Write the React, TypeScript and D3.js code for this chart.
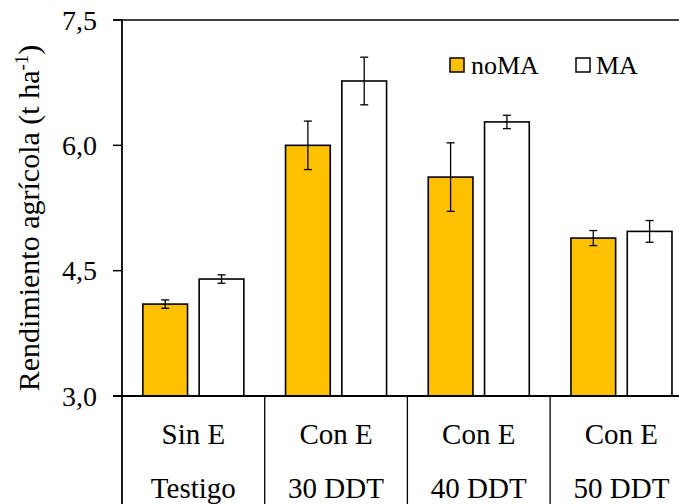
import React from "react";
import * as d3 from "d3";

const categoriesTop = ["Sin E", "Con E", "Con E", "Con E"];
const categoriesBottom = ["Testigo", "30 DDT", "40 DDT", "50 DDT"];
const categoryKeys = ["c1", "c2", "c3", "c4"];
const seriesNames = ["noMA", "MA"];
const noMAValues = [4.1, 6.0, 5.62, 4.89];
const noMAErrors = [0.05, 0.29, 0.41, 0.09];
const maValues = [4.4, 6.77, 6.28, 4.97];
const maErrors = [0.05, 0.285, 0.08, 0.13];
const yTicks = [3.0, 4.5, 6.0, 7.5];

const W = 679;
const H = 504;
const FONT = "Liberation Serif";
const ORANGE = "#FFC000";

export default function App() {
  const left = 122;
  const top = 20;
  const bottom = 396;
  const catWidth = 142.7;

  const x = d3
    .scaleBand<string>()
    .domain(categoryKeys)
    .range([left, left + catWidth * categoryKeys.length])
    .paddingInner(0)
    .paddingOuter(0);

  const xs = d3
    .scaleBand<string>()
    .domain(seriesNames)
    .range([0, x.bandwidth()])
    .paddingInner(0.206)
    .paddingOuter(0.37);

  const y = d3.scaleLinear().domain([3, 7.5]).range([bottom, top]);

  const fmt = (v: number) => d3.format(".1f")(v).replace(".", ",");

  const series = [
    { name: "noMA", values: noMAValues, errors: noMAErrors, fill: ORANGE },
    { name: "MA", values: maValues, errors: maErrors, fill: "#ffffff" },
  ];

  const capHalf = 4;

  return (
    <svg
      width={W}
      height={H}
      style={{ position: "absolute", left: 0, top: 0, background: "#fff" }}
    >
      {/* bars */}
      {series.map((s) =>
        categoryKeys.map((c, i) => {
          const bx = (x(c) as number) + (xs(s.name) as number);
          const by = y(s.values[i]);
          return (
            <rect
              key={s.name + c}
              x={bx}
              y={by}
              width={xs.bandwidth()}
              height={bottom - by}
              fill={s.fill}
              stroke="#000"
              strokeWidth={1.6}
            />
          );
        })
      )}

      {/* error bars */}
      {series.map((s) =>
        categoryKeys.map((c, i) => {
          const cx = (x(c) as number) + (xs(s.name) as number) + xs.bandwidth() / 2;
          const y1 = y(s.values[i] + s.errors[i]);
          const y2 = y(s.values[i] - s.errors[i]);
          return (
            <g key={"e" + s.name + c} stroke="#000" strokeWidth={1.3}>
              <line x1={cx} x2={cx} y1={y1} y2={y2} />
              <line x1={cx - capHalf} x2={cx + capHalf} y1={y1} y2={y1} />
              <line x1={cx - capHalf} x2={cx + capHalf} y1={y2} y2={y2} />
            </g>
          );
        })
      )}

      {/* top line at the axis maximum */}
      <line x1={113} x2={W} y1={y(7.5)} y2={y(7.5)} stroke="#000" strokeWidth={1.5} />

      {/* y axis */}
      <line x1={left} x2={left} y1={top} y2={H} stroke="#000" strokeWidth={1.8} />
      {yTicks.map((t) => (
        <g key={"t" + t}>
          <line x1={113} x2={left} y1={y(t)} y2={y(t)} stroke="#000" strokeWidth={1.5} />
          <text
            x={97}
            y={y(t)}
            dy="0.34em"
            textAnchor="end"
            fontSize={28}
            fill="#000"
            fontFamily={FONT}
          >
            {fmt(t)}
          </text>
        </g>
      ))}

      {/* x axis */}
      <line x1={113} x2={W} y1={bottom} y2={bottom} stroke="#000" strokeWidth={1.8} />
      {categoryKeys.slice(1).map((c) => (
        <line
          key={"d" + c}
          x1={x(c) as number}
          x2={x(c) as number}
          y1={bottom}
          y2={H}
          stroke="#000"
          strokeWidth={1.3}
        />
      ))}
      {categoryKeys.map((c, i) => {
        const cx = (x(c) as number) + x.bandwidth() / 2;
        return (
          <g key={"l" + c}>
            <text x={cx} y={443.5} fontSize={29} fill="#000" textAnchor="middle" fontFamily={FONT}>
              {categoriesTop[i]}
            </text>
            <text x={cx} y={497.5} fontSize={29} fill="#000" textAnchor="middle" fontFamily={FONT}>
              {categoriesBottom[i]}
            </text>
          </g>
        );
      })}

      {/* y axis title */}
      <text
        transform="translate(39,218) rotate(-90)"
        textAnchor="middle"
        fontSize={30}
        fill="#000"
        fontFamily={FONT}
      >
        Rendimiento agrícola (t ha
        <tspan fontSize={19} dy={-11}>
          -1
        </tspan>
        <tspan dy={11}>)</tspan>
      </text>

      {/* legend */}
      <g>
        <rect x={450} y={58} width={14} height={14} fill={ORANGE} stroke="#000" strokeWidth={1.5} />
        <text x={471} y={74} fontSize={26} fill="#000" fontFamily={FONT}>
          noMA
        </text>
        <rect x={576} y={58} width={14} height={14} fill="#fff" stroke="#000" strokeWidth={1.5} />
        <text x={596} y={74} fontSize={26} fill="#000" fontFamily={FONT}>
          MA
        </text>
      </g>
    </svg>
  );
}
